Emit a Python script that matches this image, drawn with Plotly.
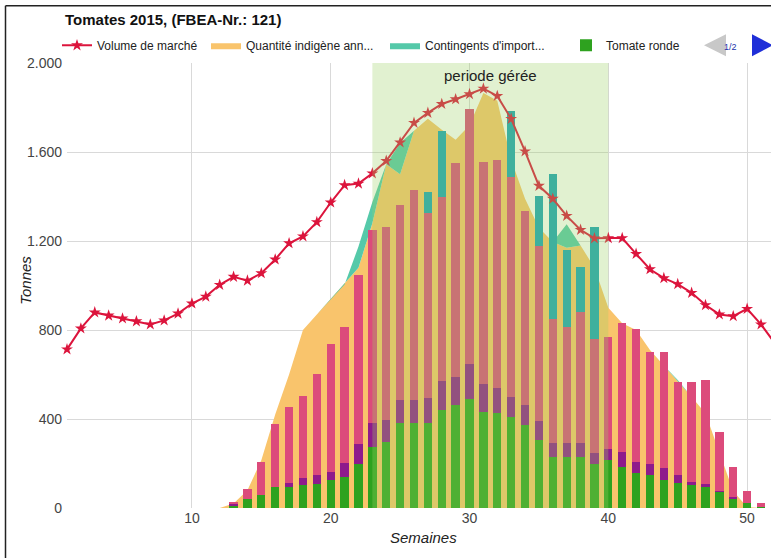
import plotly.graph_objects as go

# ---------------- data ----------------
weeks = list(range(1, 53))
volume_marche = [713, 807, 879, 865, 852, 839, 825, 843, 874, 919,
                 950, 1003, 1039, 1022, 1055, 1117, 1190, 1221, 1285, 1373,
                 1451, 1458, 1504, 1560, 1643, 1731, 1776, 1816, 1837, 1860,
                 1885, 1852, 1749, 1603, 1448, 1390, 1313, 1250, 1212, 1213,
                 1213, 1142, 1073, 1033, 1006, 967, 912, 870, 862, 895,
                 825, 740]
quantite_indigene = [0, 0, 0, 0, 0, 0, 0, 0, 0, 0,
                     0, 0, 20, 80, 215, 420, 600, 800, 870, 940,
                     1005, 1080, 1280, 1545, 1500, 1695, 1750, 1700, 1655, 1720,
                     1865, 1830, 1565, 1390, 1260, 1195, 1170, 1180, 1080, 900,
                     830, 800, 710, 640, 575, 500, 425, 250, 75, 5,
                     0, 0]
contingents_import = [0] * 21 + [95, 95, 0, 140] + [0] * 11 + [105] + [0] * 15

bar_weeks = list(range(13, 52))
tomate_ronde = [12, 39, 58, 93, 96, 103, 108, 126, 138, 200,
                275, 297, 380, 380, 380, 439, 462, 492, 432, 425,
                407, 372, 305, 230, 230, 228, 200, 218, 183, 156,
                148, 126, 111, 103, 96, 73, 42, 21, 3]
tomate_cerise = [8, 0, 0, 0, 17, 30, 40, 37, 65, 87,
                 108, 98, 104, 107, 116, 132, 127, 154, 127, 115,
                 90, 90, 87, 60, 60, 62, 48, 45, 70, 53,
                 52, 52, 37, 15, 12, 5, 9, 0, 0]
tomate_grappe = [8, 46, 150, 284, 341, 369, 453, 572, 610, 761,
                 867, 870, 878, 942, 828, 828, 963, 1146, 994, 1023,
                 989, 874, 787, 560, 523, 592, 513, 505, 580, 597,
                 501, 523, 418, 448, 469, 264, 134, 57, 18]
import_bars = [0, 0, 0, 0, 0, 0, 0, 0, 0, 0,
               0, 0, 0, 0, 95, 296, 0, 0, 0, 0,
               300, 0, 225, 651, 347, 200, 500, 0, 0, 0,
               0, 0, 0, 0, 0, 0, 0, 0, 0]

periode_geree = [23, 40]
y_ticks = [0, 400, 800, 1200, 1600, 2000]
x_ticks = [10, 20, 30, 40, 50]

# ---------------- geometry helpers ----------------
W, H = 771, 558
PL, PR, PT, PB = 67, 771, 62.7, 507.7


def px(x):
    return (x - PL) / (PR - PL)


def py(y):
    return (PB - y) / (PB - PT)


FONT = "Liberation Sans, Arial, sans-serif"

fig = go.Figure()

# areas (main axes, drawn below the bars)
fig.add_trace(go.Scatter(
    x=weeks, y=quantite_indigene, name="Quantité indigène ann...",
    mode="lines", line=dict(width=0, color="#f9c46c"),
    fillcolor="#f9c46c", stackgroup="a",
    legend="legend2", xaxis="x", yaxis="y"))
fig.add_trace(go.Scatter(
    x=weeks, y=contingents_import, name="Contingents d'import...",
    mode="lines", line=dict(width=0, color="#55c9a9"),
    fillcolor="#55c9a9", stackgroup="a",
    legend="legend3", xaxis="x", yaxis="y"))

# bars (overlay axes)
fig.add_trace(go.Bar(x=bar_weeks, y=tomate_ronde, name="Tomate ronde",
                     marker=dict(color="#2ea21f", line=dict(width=0)), width=0.6,
                     legend="legend4", xaxis="x2", yaxis="y2"))
fig.add_trace(go.Bar(x=bar_weeks, y=tomate_cerise, name="Tomates cerises",
                     marker=dict(color="#8e1a8c", line=dict(width=0)), width=0.6,
                     showlegend=False, xaxis="x2", yaxis="y2"))
fig.add_trace(go.Bar(x=bar_weeks, y=tomate_grappe, name="Tomates grappe",
                     marker=dict(color="#dc4b7b", line=dict(width=0)), width=0.6,
                     showlegend=False, xaxis="x2", yaxis="y2"))
fig.add_trace(go.Bar(x=bar_weeks, y=import_bars, name="Importations",
                     marker=dict(color="#17a3b6", line=dict(width=0)), width=0.6,
                     showlegend=False, xaxis="x2", yaxis="y2"))

# market volume line
fig.add_trace(go.Scatter(
    x=weeks, y=volume_marche, name="Volume de marché",
    mode="lines+markers", line=dict(color="#dc143c", width=2),
    marker=dict(symbol="star", size=9, color="#dc143c"),
    cliponaxis=False, legend="legend", xaxis="x2", yaxis="y2"))

xr = [1, 1 + (PR - PL) / 13.88]
leg_common = dict(orientation="h", y=py(45), yanchor="middle", xanchor="left",
                  bgcolor="rgba(0,0,0,0)", font=dict(family=FONT, size=12, color="#222"))

fig.update_layout(
    width=W, height=H,
    margin=dict(l=PL, r=W - PR, t=PT, b=H - PB, pad=0),
    paper_bgcolor="white", plot_bgcolor="white",
    separators=",.",
    barmode="stack",
    font=dict(family=FONT, size=14, color="#444"),
    title=dict(text="<b>Tomates 2015, (FBEA-Nr.: 121)</b>", x=65 / W,
               xanchor="left", y=1 - 20 / H, yanchor="middle", xref="container",
               font=dict(family=FONT, size=15, color="#111")),
    xaxis=dict(range=xr, tickvals=x_ticks, showgrid=True, gridcolor="#d9d9d9", gridwidth=1,
               zeroline=False, showline=False, ticks="", tickfont=dict(size=14, color="#444")),
    yaxis=dict(range=[0, 2000], tickvals=y_ticks, tickformat=",d", showgrid=True,
               gridcolor="#d9d9d9", gridwidth=1, zeroline=False, showline=False, ticks="",
               tickfont=dict(size=14, color="#444"), ticklabelstandoff=4),
    xaxis2=dict(range=xr, overlaying="x", visible=False),
    yaxis2=dict(range=[0, 2000], overlaying="y", visible=False),
    legend=dict(x=px(57), **leg_common),
    legend2=dict(x=px(206), **leg_common),
    legend3=dict(x=px(385), **leg_common),
    legend4=dict(x=px(566), **leg_common),
)

shapes = [
    # managed period band
    dict(type="rect", xref="x", yref="paper", x0=periode_geree[0], x1=periode_geree[1],
         y0=0, y1=1, fillcolor="rgba(155,210,100,0.30)", line=dict(width=0), layer="above"),
    # frame
    dict(type="line", xref="paper", yref="paper", x0=px(5.5), x1=px(5.5), y0=py(5.5), y1=py(560),
         line=dict(color="#222", width=1.5)),
    dict(type="line", xref="paper", yref="paper", x0=px(5.5), x1=px(775), y0=py(5.5), y1=py(5.5),
         line=dict(color="#222", width=1.5)),
    # legend paging arrows
    dict(type="path", xref="paper", yref="paper",
         path=f"M {px(704)},{py(45)} L {px(726)},{py(34)} L {px(726)},{py(56)} Z",
         fillcolor="#c8c8c8", line=dict(width=0)),
    dict(type="path", xref="paper", yref="paper",
         path=f"M {px(752)},{py(34)} L {px(773)},{py(45)} L {px(752)},{py(56)} Z",
         fillcolor="#1f2fd8", line=dict(width=0)),
]
fig.update_layout(shapes=shapes)

annotations = [
    dict(text="periode gérée", x=(periode_geree[0] + periode_geree[1]) / 2, xref="x",
         y=1, yref="paper", yanchor="top", yshift=-2, showarrow=False,
         font=dict(family=FONT, size=15, color="#222")),
    dict(text="1/2", x=px(739), y=py(40), xref="paper", yref="paper", showarrow=False,
         font=dict(family=FONT, size=9, color="#2233aa")),
    dict(text="<i>Semaines</i>", x=px(423), y=py(548), xref="paper", yref="paper",
         showarrow=False, font=dict(family=FONT, size=15, color="#222")),
    dict(text="<i>Tonnes</i>", x=px(15), y=py(280), xref="paper", yref="paper",
         showarrow=False, textangle=-90, font=dict(family=FONT, size=15, color="#222")),
]
fig.update_layout(annotations=annotations)

fig.write_html("out.html", config={"displayModeBar": False},
               post_script="document.body.style.margin='0';document.body.style.overflow='hidden';")
